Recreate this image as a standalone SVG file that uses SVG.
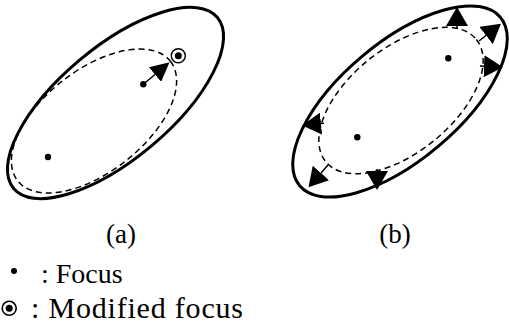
<svg xmlns="http://www.w3.org/2000/svg" width="509" height="327" viewBox="0 0 509 327">
<style>
.outer{fill:none;stroke:#000;stroke-width:3}
.dash{fill:none;stroke:#000;stroke-width:1.5;stroke-dasharray:6 4}
.dot{fill:#000}
.arr{stroke:#000;stroke-width:1.5;fill:none}
.lbl{font-family:"Liberation Serif","Times New Roman",serif;font-size:27px;fill:#000}
.leg{font-family:"Liberation Serif","Times New Roman",serif;font-size:28px;fill:#000}
.leg2{font-family:"Liberation Serif","Times New Roman",serif;font-size:30px;fill:#000}
</style>
<defs>
<marker id="ah" viewBox="0 -11 19 22" refX="0" refY="0" markerWidth="19" markerHeight="22" markerUnits="userSpaceOnUse" orient="auto">
<path d="M0,-11 L19,0 L0,11 Z" fill="#000"/>
</marker>
<marker id="ahs" viewBox="0 -9.5 19 19" refX="0" refY="0" markerWidth="19" markerHeight="19" markerUnits="userSpaceOnUse" orient="auto">
<path d="M0,-9.5 L19,0 L0,9.5 Z" fill="#000"/>
</marker>
</defs>
<g id="diagram-a">
<ellipse class="outer" cx="115.5" cy="103" rx="133" ry="56" transform="rotate(-40 115.5 103)"/>
<ellipse class="dash" cx="94" cy="121" rx="97" ry="51" transform="rotate(-38 94 121)"/>
<circle class="dot" cx="48" cy="157" r="3.2"/>
<circle class="dot" cx="143.3" cy="84.3" r="3.2"/>
<circle cx="178.3" cy="55.7" r="7" fill="none" stroke="#000" stroke-width="1.4"/>
<circle class="dot" cx="178.3" cy="55.7" r="3.5"/>
</g>
<g id="diagram-b">
<ellipse class="outer" cx="400" cy="101.5" rx="131" ry="59" transform="rotate(-40 400 101.5)"/>
<ellipse class="dash" cx="401" cy="100.5" rx="97" ry="52" transform="rotate(-39 401 100.5)"/>
<circle class="dot" cx="448.3" cy="58.3" r="3.2"/>
<circle class="dot" cx="357.3" cy="137.3" r="3.2"/>
</g>
<g id="connectors">
<line class="arr" x1="143.3" y1="84.3" x2="155" y2="74.5" marker-end="url(#ahs)"/>
<line class="arr" x1="457" y1="29" x2="457" y2="26" marker-end="url(#ah)"/>
<line class="arr" x1="479" y1="41" x2="486" y2="35.5" marker-end="url(#ah)"/>
<line class="arr" x1="480" y1="66" x2="484" y2="66.2" marker-end="url(#ah)"/>
<line class="arr" x1="324" y1="123.3" x2="321" y2="123.6" marker-end="url(#ah)"/>
<line class="arr" x1="328" y1="165" x2="321" y2="173" marker-end="url(#ah)"/>
<line class="arr" x1="377" y1="169" x2="377" y2="171" marker-end="url(#ah)"/>
</g>
<g id="labels">
<text class="lbl" x="121" y="243" text-anchor="middle">(a)</text>
<text class="lbl" x="395" y="243" text-anchor="middle">(b)</text>
</g>
<g id="legend">
<circle class="dot" cx="14" cy="271" r="3"/>
<text class="leg" x="41" y="283">: Focus</text>
<circle cx="9.2" cy="308.3" r="7" fill="none" stroke="#000" stroke-width="1.6"/>
<circle class="dot" cx="9.2" cy="308.3" r="3.5"/>
<text class="leg2" x="31" y="318" textLength="212" lengthAdjust="spacing">: Modified focus</text>
</g>
</svg>
